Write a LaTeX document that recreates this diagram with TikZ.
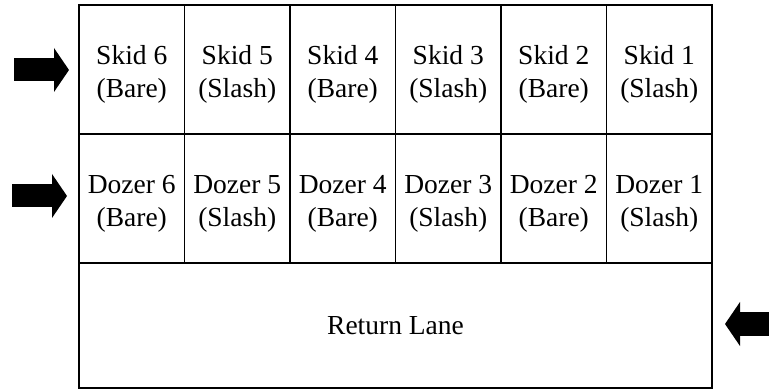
\documentclass[tikz,border=0pt]{standalone}
\usepackage{fontspec}
\setmainfont{Liberation Serif}
\usetikzlibrary{arrows.meta, positioning}

\tikzset{
  cell/.style={draw, line width=1.2pt, minimum width=105.5pt, minimum height=129pt,
    inner sep=0pt, outer sep=0pt, align=center, font=\fontsize{27.5}{33}\selectfont},
  twoline/.style={execute at begin node={\rule{0pt}{62pt}}},
  bigarrow/.style={line width=23pt, -{Triangle[length=15pt, width=44pt, line width=0pt]}},
}

\begin{document}
\begin{tikzpicture}[x=1pt, y=-1pt, node distance=0pt]
        \useasboundingbox (0,0) rectangle (769,390);
        \node[cell, twoline] (skid6) at (131.75,69.5) {Skid 6\\(Bare)};
        \node[cell, twoline, right=of skid6] (skid5) {Skid 5\\(Slash)};
        \node[cell, twoline, right=of skid5] (skid4) {Skid 4\\(Bare)};
        \node[cell, twoline, right=of skid4] (skid3) {Skid 3\\(Slash)};
        \node[cell, twoline, right=of skid3] (skid2) {Skid 2\\(Bare)};
        \node[cell, twoline, right=of skid2] (skid1) {Skid 1\\(Slash)};
        \node[cell, twoline, below=of skid6] (dozer6) {Dozer 6\\(Bare)};
        \node[cell, twoline, right=of dozer6] (dozer5) {Dozer 5\\(Slash)};
        \node[cell, twoline, right=of dozer5] (dozer4) {Dozer 4\\(Bare)};
        \node[cell, twoline, right=of dozer4] (dozer3) {Dozer 3\\(Slash)};
        \node[cell, twoline, right=of dozer3] (dozer2) {Dozer 2\\(Bare)};
        \node[cell, twoline, right=of dozer2] (dozer1) {Dozer 1\\(Slash)};
        \node[cell, minimum width=633pt, minimum height=125pt,
          below=of dozer6.south west, anchor=north west] (lane) {Return Lane};
        \coordinate (in1) at (14,70);
        \coordinate (in2) at (12,196);
        \coordinate (back) at (780,324);
        \draw[bigarrow, shorten >=10pt] (in1) -- (skid6.west |- in1);
        \draw[bigarrow, shorten >=12pt] (in2) -- (dozer6.west |- in2);
        \draw[bigarrow, shorten >=13pt] (back) -- (lane.east |- back);
    \end{tikzpicture}
\end{document}
